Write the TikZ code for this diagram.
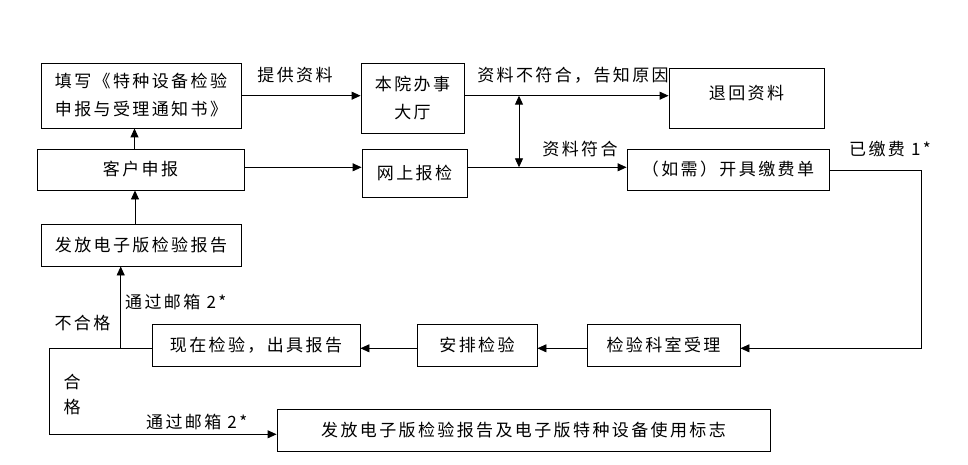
\documentclass[tikz,border=0pt]{standalone}
\usepackage{fontspec}
\setmainfont{Noto Sans CJK SC}[LetterSpace=14]
\usetikzlibrary{arrows.meta,calc}
\tikzset{
  box/.style={draw, line width=0.9pt, inner sep=0pt, align=center, font=\fontsize{17pt}{28pt}\selectfont},
  lbl/.style={inner sep=0pt, font=\fontsize{17pt}{28pt}\selectfont},
  arr/.style={line width=0.9pt, -{Triangle[length=9pt,width=8pt]}},
  dbl/.style={line width=0.9pt, {Triangle[length=9pt,width=8pt]}-{Triangle[length=9pt,width=8pt]}},
  ln/.style={line width=0.9pt}
}
\begin{document}
\begin{tikzpicture}[x=1pt,y=-1pt]
\useasboundingbox (0,0) rectangle (968,465);
% boxes
\node[box, minimum width=200pt, minimum height=65pt] (fill) at (141,95.5) {填写《特种设备检验\\申报与受理通知书》};
\node[box, minimum width=103pt, minimum height=70pt] (hall) at (412.5,98) {本院办事\\大厅};
\node[box, minimum width=207pt, minimum height=41pt] (apply) at (140.5,169.5) {客户申报};
\node[box, minimum width=105pt, minimum height=48pt] (online) at (414.5,173) {网上报检};
\node[box, minimum width=200pt, minimum height=42pt] (ereport) at (141,245) {发放电子版检验报告};
\node[box, minimum width=155pt, minimum height=60pt, text depth=11pt] (ret) at (746.5,98) {退回资料};
\node[box, minimum width=202pt, minimum height=41pt] (bill) at (728,169.5) {（如需）开具缴费单};
\node[box, minimum width=153pt, minimum height=42pt] (dept) at (663.5,345) {检验科室受理};
\node[box, minimum width=120pt, minimum height=42pt] (arrange) at (477,345) {安排检验};
\node[box, minimum width=208pt, minimum height=42pt] (inspect) at (256,345) {现在检验，出具报告};
\node[box, minimum width=493pt, minimum height=42pt] (final) at (523.5,430) {发放电子版检验报告及电子版特种设备使用标志};
% helper coordinates
\coordinate (j1) at (519,95.7);
\coordinate (j2) at (519,167.3);
\coordinate (c1) at (921.7,348.3);
\coordinate (c2) at (49.3,348.3);
\coordinate (c3) at (49.3,434.3);
\coordinate (c4) at (120.7,348.3);
% connectors
\draw[arr] (fill.east |- j1) -- (j1 -| hall.west);
\draw[arr] (apply.east |- j2) -- (j2 -| online.west);
\draw[arr] (hall.east |- j1) -- (j1 -| ret.west);
\draw[arr] (online.east |- j2) -- (j2 -| bill.west);
\draw[dbl] (j1) -- (j2);
\draw[arr] ([xshift=-6pt]apply.north) -- ([xshift=-6pt]apply.north |- fill.south);
\draw[arr] ([xshift=-6pt]ereport.north) -- ([xshift=-6pt]ereport.north |- apply.south);
\draw[arr] ([yshift=-0.5pt]bill.east) -| (c1) -- (c1 -| dept.east);
\draw[arr] (dept.west |- c1) -- (c1 -| arrange.east);
\draw[arr] (arrange.west |- c1) -- (c1 -| inspect.east);
\draw[ln] (inspect.west |- c1) -- (c2) -- (c3);
\draw[arr] (c3) -- (c3 -| final.west);
\draw[arr] (c4) -- (c4 |- ereport.south);
% labels
\node[lbl] (l1) at (295,75) {提供资料};
\node[lbl] (l2) at (573,75) {资料不符合，告知原因};
\node[lbl] (l3) at (580,149) {资料符合};
\node[lbl] (l4) at (890,149) {已缴费 1*};
\node[lbl, anchor=west] (l5) at (125,301.7) {通过邮箱 2*};
\node[lbl] (l6) at (82.5,323) {不合格};
\node[lbl] (l7) at (72,381.7) {合};
\node[lbl] (l8) at (72,406.7) {格};
\node[lbl] (l9) at (196.7,421.7) {通过邮箱 2*};
\end{tikzpicture}
\end{document}
